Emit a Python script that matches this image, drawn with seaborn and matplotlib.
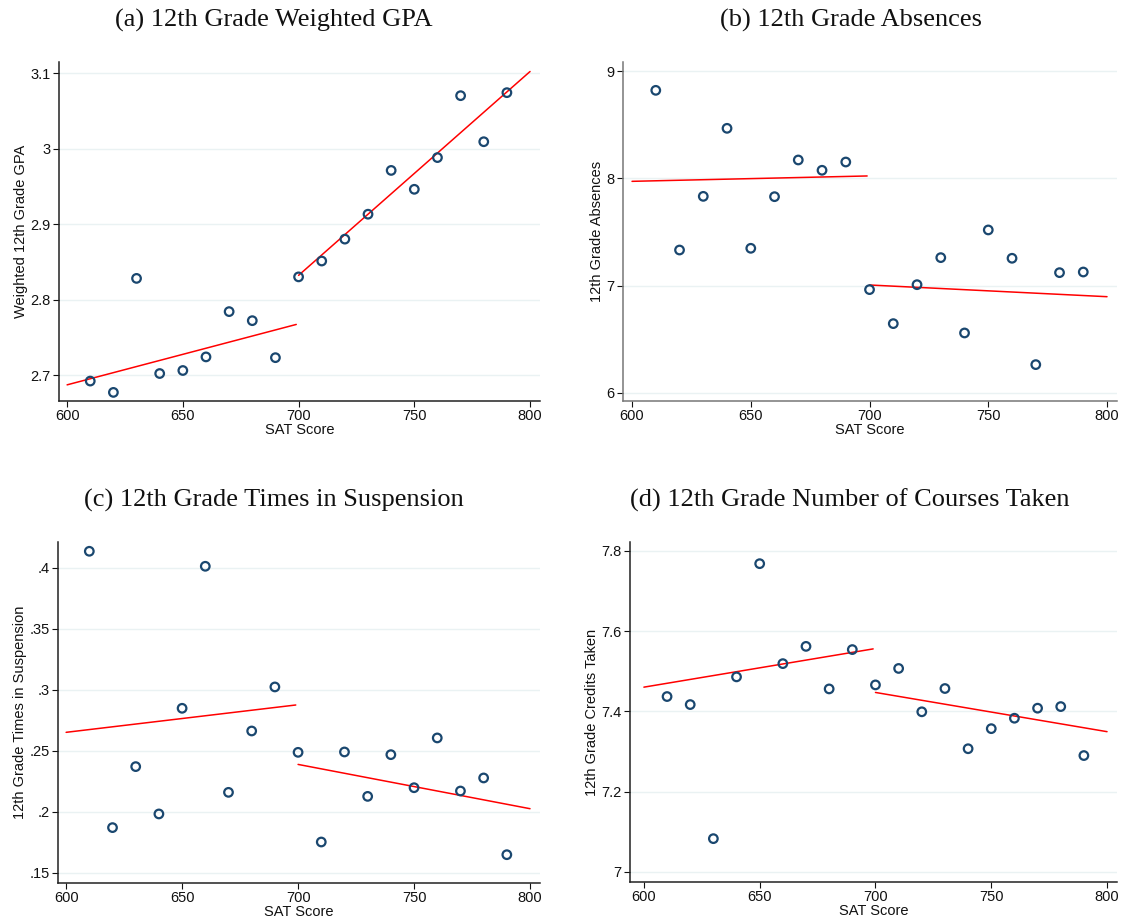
import numpy as np
import pandas as pd
import matplotlib
matplotlib.use("Agg")
import matplotlib.pyplot as plt
import seaborn as sns

# ---- data ----
sat = [610, 620, 630, 640, 650, 660, 670, 680, 690, 700,
       710, 720, 730, 740, 750, 760, 770, 780, 790]

gpa = [2.692, 2.677, 2.828, 2.702, 2.706, 2.724, 2.784, 2.772, 2.723, 2.830,
       2.851, 2.880, 2.913, 2.971, 2.946, 2.988, 3.070, 3.009, 3.074]
absences = [8.820, 7.332, 7.832, 8.466, 7.348, 7.829, 8.171, 8.075, 8.152, 6.963,
            6.646, 7.009, 7.261, 6.559, 7.519, 7.255, 6.264, 7.121, 7.127]
suspension = [0.4137, 0.1872, 0.2372, 0.1984, 0.2850, 0.4014, 0.2161, 0.2664, 0.3025, 0.2489,
              0.1754, 0.2492, 0.2128, 0.2470, 0.2199, 0.2607, 0.2172, 0.2279, 0.1650]
credits = [7.437, 7.417, 7.083, 7.486, 7.768, 7.519, 7.562, 7.456, 7.554, 7.466,
           7.507, 7.399, 7.457, 7.307, 7.357, 7.383, 7.408, 7.412, 7.290]

# fitted lines (endpoints): left segment 600-700, right 700-800
fit_left_x = [600, 699]
fit_right_x = [700, 800]
gpa_fit_left = [2.687, 2.767]
gpa_fit_right = [2.832, 3.102]
abs_fit_left = [7.972, 8.022]
abs_fit_right = [7.006, 6.897]
susp_fit_left = [0.2653, 0.2877]
susp_fit_right = [0.2390, 0.2027]
cred_fit_left = [7.4604, 7.5557]
cred_fit_right = [7.4472, 7.3495]

titles = ["(a) 12th Grade Weighted GPA", "(b) 12th Grade Absences",
          "(c) 12th Grade Times in Suspension", "(d) 12th Grade Number of Courses Taken"]
ylabels = ["Weighted 12th Grade GPA", "12th Grade Absences",
           "12th Grade Times in Suspension", "12th Grade Credits Taken"]
xlabel = "SAT Score"
xticks = [600, 650, 700, 750, 800]
yticks_list = [[2.7, 2.8, 2.9, 3.0, 3.1], [6, 7, 8, 9],
               [0.15, 0.2, 0.25, 0.3, 0.35, 0.4], [7.0, 7.2, 7.4, 7.6, 7.8]]
yticklabels_list = [["2.7", "2.8", "2.9", "3", "3.1"], ["6", "7", "8", "9"],
                    [".15", ".2", ".25", ".3", ".35", ".4"], ["7", "7.2", "7.4", "7.6", "7.8"]]

sns.set_theme(style="white")
plt.rcParams["font.family"] = ["Liberation Sans", "DejaVu Sans"]

W, H = 1122, 921
fig = plt.figure(figsize=(W / 100, H / 100), dpi=100)

def frac_box(l, r, t, b):
    return [l / W, 1 - b / H, (r - l) / W, (b - t) / H]

boxes = [frac_box(59, 540, 62, 401), frac_box(623, 1117, 62, 401),
         frac_box(58, 540, 542, 883), frac_box(630, 1117, 542, 882)]
xlims = [(596.5, 804.3), (596.2, 804.2), (596.5, 804.3), (594.0, 804.3)]
ylims = [(2.6656, 3.1146), (5.925, 9.084), (0.1418, 0.4213), (6.975, 7.822)]

series = [gpa, absences, suspension, credits]
fits = [(gpa_fit_left, gpa_fit_right), (abs_fit_left, abs_fit_right),
        (susp_fit_left, susp_fit_right), (cred_fit_left, cred_fit_right)]

navy = "#1a476f"
grid_c = "#eaf2f3"
spine_c = ["#222222", "#777777", "#222222", "#222222"]
title_pos = [(274, 20), (851, 20), (274, 500), (850, 500)]

for i in range(4):
    ax = fig.add_axes(boxes[i])
    df = pd.DataFrame({"x": sat, "y": series[i]})
    for yv in yticks_list[i]:
        ax.axhline(yv, color=grid_c, lw=1.0, zorder=0)
    fl, fr = fits[i]
    sns.lineplot(x=fit_left_x, y=fl, ax=ax, color="red", lw=1.1, zorder=2)
    sns.lineplot(x=fit_right_x, y=fr, ax=ax, color="red", lw=1.1, zorder=2)
    sns.scatterplot(data=df, x="x", y="y", ax=ax, marker="o", s=38,
                    facecolors="none", edgecolor=navy, linewidth=1.6, zorder=3)
    ax.set_xlim(*xlims[i])
    ax.set_ylim(*ylims[i])
    ax.set_xticks(xticks)
    ax.set_xticklabels([str(v) for v in xticks])
    ax.set_yticks(yticks_list[i])
    ax.set_yticklabels(yticklabels_list[i])
    ax.set_xlabel(xlabel, fontsize=10.5, labelpad=0, color="#111111")
    ax.set_ylabel(ylabels[i], fontsize=10.5, labelpad=2, color="#111111")
    ax.tick_params(axis="both", which="major", direction="out", length=4, width=0.8,
                   labelsize=10.5, colors="#111111", pad=2, bottom=True, left=True)
    for s in ["top", "right"]:
        ax.spines[s].set_visible(False)
    for s in ["left", "bottom"]:
        ax.spines[s].set_color(spine_c[i])
        ax.spines[s].set_linewidth(1.1)
    ax.set_facecolor("white")
    tx, ty = title_pos[i]
    fig.text(tx / W, 1 - ty / H, titles[i], ha="center", va="center",
             fontsize=19, family=["Liberation Serif", "DejaVu Serif"], color="#111111")

fig.savefig("out.png", dpi=100, facecolor="white")
